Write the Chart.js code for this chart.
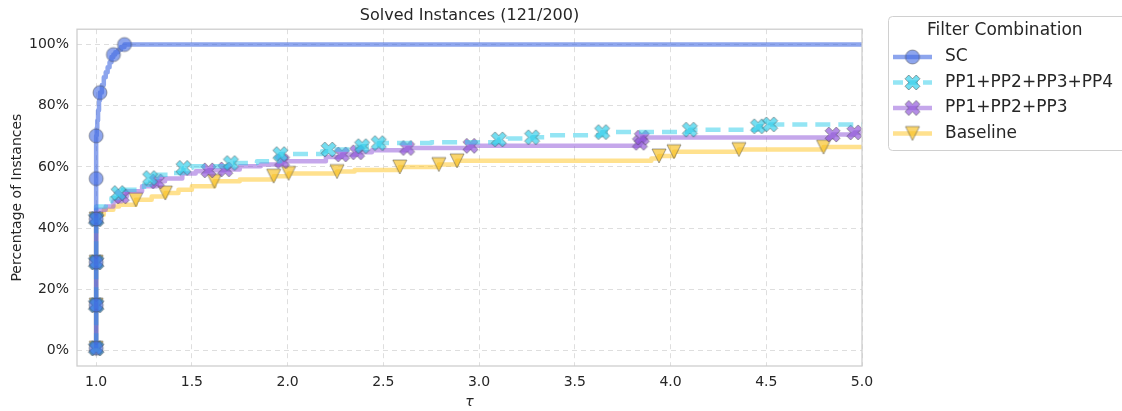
<!DOCTYPE html>
<html><head><meta charset="utf-8">
<script src="https://cdn.jsdelivr.net/npm/chart.js@4.4.1/dist/chart.umd.min.js"></script>
<style>html,body{margin:0;padding:0;background:#fff;overflow:hidden}#wrap{width:1122px;height:411px;position:relative}</style>
</head><body><div id="wrap"><canvas id="c" width="1122" height="411"></canvas></div>
<script>
const chartTitle = 'Solved Instances (121/200)';
const legendTitle = 'Filter Combination';
const seriesNames = ['SC', 'PP1+PP2+PP3+PP4', 'PP1+PP2+PP3', 'Baseline'];
const xTicks = [1.0, 1.5, 2.0, 2.5, 3.0, 3.5, 4.0, 4.5, 5.0];
const yTicks = [0, 20, 40, 60, 80, 100];

const scTau = [1.0, 1.0, 1.003, 1.006, 1.01, 1.015, 1.02, 1.03, 1.04, 1.05, 1.06, 1.07, 1.08, 1.09, 1.10, 1.115, 1.13, 1.148, 5.0];
const scPct = [0.8, 70.2, 72.7, 75.2, 78.5, 81.8, 84.3, 86.8, 89.3, 90.9, 92.6, 94.2, 95.9, 96.7, 97.5, 98.3, 99.2, 100, 100];
const scMarkTau = [1.0, 1.0, 1.0, 1.0, 1.0, 1.0, 1.02, 1.09, 1.148];
const scMarkPct = [0.8, 14.9, 28.9, 43.0, 56.2, 70.2, 84.3, 96.7, 100];

const p4Tau = [1.0, 1.0, 1.05, 1.08, 1.117, 1.14, 1.25, 1.282, 1.32, 1.40, 1.456, 1.50, 1.704, 1.84, 1.962, 2.18, 2.214, 2.33, 2.389, 2.476, 2.75, 3.103, 3.15, 3.277, 3.36, 3.643, 4.101, 4.457, 4.52, 5.0];
const p4Pct = [0.8, 47.1, 48.8, 49.9, 51.5, 52.6, 54.2, 56.4, 57.5, 58.0, 59.7, 60.2, 61.3, 61.9, 64.2, 65.1, 65.7, 66.5, 66.8, 67.8, 68.1, 69.0, 69.3, 69.7, 70.4, 71.4, 72.2, 73.3, 73.9, 73.9];
const p4MarkTau = [1.0, 1.0, 1.0, 1.0, 1.117, 1.282, 1.456, 1.704, 1.962, 2.214, 2.389, 2.476, 3.103, 3.277, 3.643, 4.101, 4.457, 4.52];
const p4MarkPct = [0.8, 14.9, 28.9, 43.0, 51.5, 56.4, 59.7, 61.3, 64.2, 65.7, 66.8, 67.8, 69.0, 69.7, 71.4, 72.2, 73.3, 73.9];

const p3Tau = [1.0, 1.0, 1.05, 1.09, 1.134, 1.16, 1.24, 1.317, 1.36, 1.45, 1.52, 1.587, 1.674, 1.75, 1.86, 1.971, 2.20, 2.284, 2.363, 2.44, 2.624, 2.955, 3.84, 3.85, 4.846, 4.96, 5.0];
const p3Pct = [0.8, 46.0, 47.1, 48.8, 50.4, 52.1, 53.7, 55.3, 56.2, 57.9, 58.6, 58.9, 59.2, 60.2, 60.8, 61.9, 63.3, 64.1, 64.8, 65.5, 66.2, 66.9, 67.9, 69.6, 70.6, 71.3, 71.3];
const p3MarkTau = [1.0, 1.0, 1.0, 1.0, 1.134, 1.317, 1.587, 1.674, 1.971, 2.284, 2.363, 2.624, 2.955, 3.84, 3.85, 4.846, 4.96];
const p3MarkPct = [0.8, 14.9, 28.9, 43.0, 50.4, 55.3, 58.9, 59.2, 61.9, 64.1, 64.8, 66.2, 66.9, 67.9, 69.6, 70.6, 71.3];

const baseTau = [1.0, 1.0, 1.04, 1.09, 1.12, 1.207, 1.29, 1.361, 1.43, 1.50, 1.618, 1.75, 1.927, 2.005, 2.258, 2.35, 2.586, 2.79, 2.885, 3.90, 3.94, 4.018, 4.357, 4.799, 5.0];
const basePct = [0.8, 44.4, 46.0, 47.1, 47.7, 49.3, 50.4, 51.5, 52.6, 53.7, 55.3, 55.9, 57.0, 57.9, 58.5, 59.0, 60.0, 60.8, 62.0, 62.8, 63.6, 65.0, 65.7, 66.5, 66.5];
const baseMarkTau = [1.0, 1.0, 1.0, 1.0, 1.207, 1.361, 1.618, 1.927, 2.005, 2.258, 2.586, 2.79, 2.885, 3.94, 4.018, 4.357, 4.799];
const baseMarkPct = [0.8, 14.9, 28.9, 43.0, 49.3, 51.5, 55.3, 57.0, 57.9, 58.5, 60.0, 60.8, 62.0, 63.6, 65.0, 65.7, 66.5];

const FONT = '"DejaVu Sans", "Liberation Sans", sans-serif';
const TXT = '#262626';

function markerCanvas(kind, fill, edge, size) {
  const pad = 2;
  const w = Math.ceil(size + pad * 2);
  const c = document.createElement('canvas');
  c.width = w; c.height = w;
  const g = c.getContext('2d');
  const m = w / 2, h = size / 2;
  g.beginPath();
  if (kind === 'circle') {
    g.arc(m, m, h, 0, Math.PI * 2);
  } else if (kind === 'x') {
    const pts = [[-1,-2],[0,-1],[1,-2],[2,-1],[1,0],[2,1],[1,2],[0,1],[-1,2],[-2,1],[-1,0],[-2,-1]];
    pts.forEach((p, i) => { const x = m + p[0] / 4 * size, y = m + p[1] / 4 * size; i ? g.lineTo(x, y) : g.moveTo(x, y); });
    g.closePath();
  } else {
    g.moveTo(m, m + h); g.lineTo(m - h, m - h); g.lineTo(m + h, m - h); g.closePath();
  }
  g.fillStyle = fill; g.fill();
  g.lineWidth = 1; g.strokeStyle = edge; g.stroke();
  return c;
}

const styles = [
  { line: 'rgba(65,105,225,0.6)', dash: [], marker: markerCanvas('circle', 'rgba(65,105,225,0.6)', 'rgba(70,70,70,0.5)', 14) },
  { line: 'rgba(41,204,234,0.5)', dash: [15, 8], marker: markerCanvas('x', 'rgba(41,204,234,0.65)', 'rgba(70,70,70,0.5)', 15) },
  { line: 'rgba(140,80,215,0.5)', dash: [], marker: markerCanvas('x', 'rgba(140,80,215,0.65)', 'rgba(70,70,70,0.5)', 15) },
  { line: 'rgba(255,196,30,0.5)', dash: [], marker: markerCanvas('tri', 'rgba(247,191,28,0.65)', 'rgba(70,70,70,0.5)', 14) }
];

const seriesData = [
  [scTau, scPct, scMarkTau, scMarkPct],
  [p4Tau, p4Pct, p4MarkTau, p4MarkPct],
  [p3Tau, p3Pct, p3MarkTau, p3MarkPct],
  [baseTau, basePct, baseMarkTau, baseMarkPct]
];

const datasets = [];
seriesData.forEach((s, k) => {
  const st = styles[k];
  datasets.push({
    label: seriesNames[k],
    data: s[0].map((t, i) => ({ x: t, y: s[1][i] })),
    stepped: 'before',
    borderColor: st.line,
    borderWidth: 4.5,
    borderDash: st.dash,
    borderCapStyle: 'butt',
    borderJoinStyle: 'round',
    pointRadius: 0,
    fill: false,
    order: 2 * k + 1
  });
  datasets.push({
    label: seriesNames[k] + ' markers',
    data: s[2].map((t, i) => ({ x: t, y: s[3][i] })),
    showLine: false,
    pointStyle: st.marker,
    pointRadius: 6,
    order: 2 * k
  });
});

const boxPlugin = {
  id: 'frameAndLegend',
  afterDatasetsDraw(chart) {
    const { ctx, chartArea: a } = chart;
    ctx.save();
    ctx.strokeStyle = '#cccccc';
    ctx.lineWidth = 1.25;
    ctx.strokeRect(a.left, a.top, a.right - a.left, a.bottom - a.top);
    ctx.restore();
  },
  afterDraw(chart) {
    const ctx = chart.ctx;
    ctx.save();
    const bx = 888.5, by = 16.5, bw = 260, bh = 134, r = 4;
    ctx.beginPath();
    ctx.moveTo(bx + r, by); ctx.lineTo(bx + bw - r, by); ctx.arcTo(bx + bw, by, bx + bw, by + r, r);
    ctx.lineTo(bx + bw, by + bh - r); ctx.arcTo(bx + bw, by + bh, bx + bw - r, by + bh, r);
    ctx.lineTo(bx + r, by + bh); ctx.arcTo(bx, by + bh, bx, by + bh - r, r);
    ctx.lineTo(bx, by + r); ctx.arcTo(bx, by, bx + r, by, r); ctx.closePath();
    ctx.fillStyle = 'rgba(255,255,255,0.8)'; ctx.fill();
    ctx.strokeStyle = '#d0d0d0'; ctx.lineWidth = 1; ctx.stroke();
    ctx.fillStyle = TXT;
    ctx.font = '17px ' + FONT;
    ctx.textBaseline = 'middle';
    ctx.textAlign = 'left';
    ctx.fillText(legendTitle, 927, 31);
    const ys = [57, 82.5, 108, 133.5];
    seriesNames.forEach((n, k) => {
      const st = styles[k];
      const y = ys[k];
      ctx.save();
      ctx.strokeStyle = st.line; ctx.lineWidth = 4.5; ctx.lineCap = 'butt';
      ctx.setLineDash(st.dash.length ? [10, 5] : []);
      ctx.beginPath(); ctx.moveTo(893, y); ctx.lineTo(932, y); ctx.stroke();
      ctx.restore();
      const m = st.marker;
      ctx.drawImage(m, 912.5 - m.width / 2, y - m.height / 2);
      ctx.fillStyle = TXT;
      ctx.fillText(n, 945, y);
    });
    ctx.restore();
  }
};

new Chart(document.getElementById('c'), {
  type: 'line',
  data: { datasets },
  plugins: [boxPlugin],
  options: {
    responsive: false,
    animation: false,
    devicePixelRatio: 1,
    layout: { padding: { left: 0, right: 260, top: 0, bottom: 0 } },
    plugins: {
      legend: { display: false },
      tooltip: { enabled: false },
      title: {
        display: true, text: chartTitle, fullSize: false, color: TXT,
        font: { family: FONT, size: 16, weight: 'normal' },
        padding: { top: 6, bottom: 4 }
      }
    },
    scales: {
      x: {
        type: 'linear', min: 0.9, max: 5.0,
        afterBuildTicks: s => { s.ticks = xTicks.map(v => ({ value: v })); },
        afterFit: s => { s.height = 45; },
        ticks: { callback: v => Number(v).toFixed(1), color: TXT, font: { family: FONT, size: 14 }, padding: 8, maxRotation: 0, autoSkip: false },
        grid: { color: '#dedede', lineWidth: 1, drawTicks: false },
        border: { display: false, dash: [5, 4] },
        title: { display: true, text: 'τ', color: TXT, font: { family: FONT, size: 14, style: 'italic' }, padding: { top: 0, bottom: 0 } }
      },
      y: {
        type: 'linear', min: -5, max: 105,
        afterBuildTicks: s => { s.ticks = yTicks.map(v => ({ value: v })); },
        afterFit: s => { s.width = 77; },
        ticks: { callback: v => v + '%', color: TXT, font: { family: FONT, size: 14 }, padding: 8 },
        grid: { color: '#dedede', lineWidth: 1, drawTicks: false },
        border: { display: false, dash: [5, 4] },
        title: { display: true, text: 'Percentage of Instances', color: TXT, font: { family: FONT, size: 14 }, padding: { top: 9, bottom: 0 } }
      }
    }
  }
});
</script></body></html>
